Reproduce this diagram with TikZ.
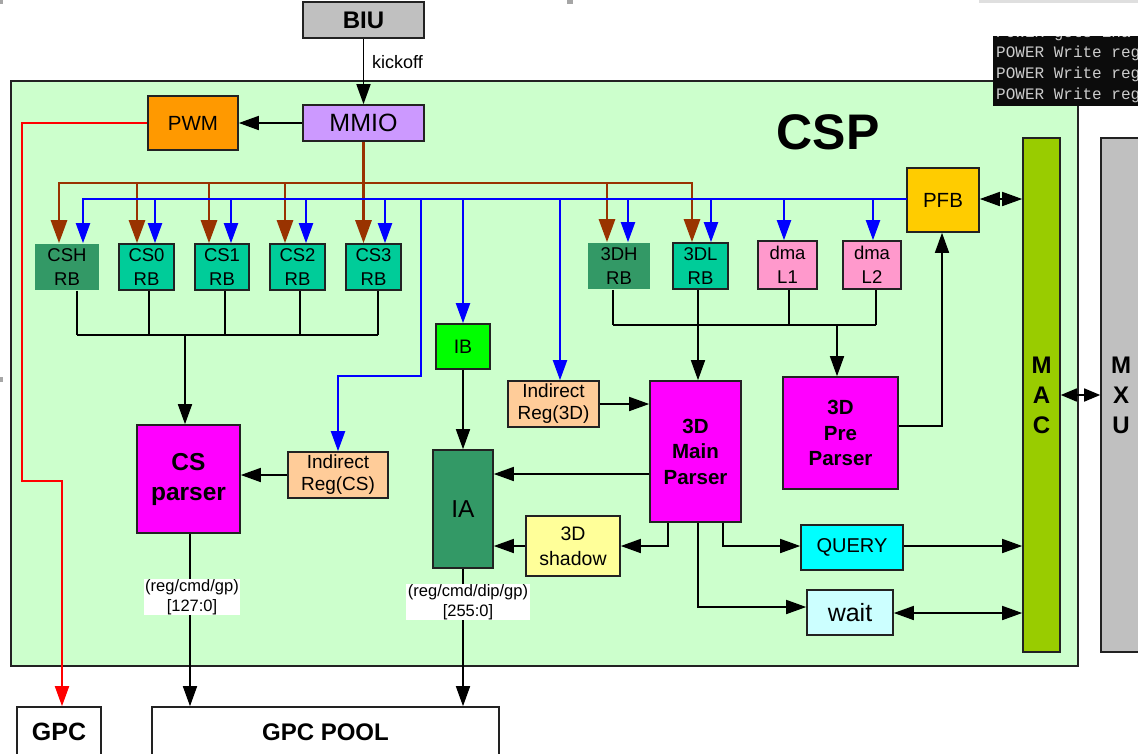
\documentclass[tikz,border=0pt]{standalone}
\usepackage{fontspec}
\setmainfont{Liberation Sans}
\newfontfamily\monofont{Liberation Mono}
\usetikzlibrary{arrows.meta}
\definecolor{biugray}{HTML}{C0C0C0}
\definecolor{mmiocol}{HTML}{CC99FF}
\definecolor{pwmcol}{HTML}{FF9900}
\definecolor{cspbg}{HTML}{CCFFCC}
\definecolor{pfbcol}{HTML}{FFCC00}
\definecolor{maccol}{HTML}{99CC00}
\definecolor{dkgreen}{HTML}{339966}
\definecolor{tqcol}{HTML}{00CC99}
\definecolor{pinkcol}{HTML}{FF99CC}
\definecolor{magcol}{HTML}{FF00FF}
\definecolor{peachcol}{HTML}{FFCC99}
\definecolor{grncol}{HTML}{00FF00}
\definecolor{yelcol}{HTML}{FFFF99}
\definecolor{cyancol}{HTML}{00FFFF}
\definecolor{ltcyan}{HTML}{CCFFFF}
\definecolor{brncol}{HTML}{993300}
\definecolor{bluecol}{HTML}{0000FF}
\definecolor{termbg}{HTML}{0C0C0C}
\definecolor{termfg}{HTML}{CCCCCC}
\definecolor{bordcol}{HTML}{222222}
\newcommand{\fsz}[2]{\fontsize{#1}{#2}\selectfont}
\begin{document}
\begin{tikzpicture}[x=1pt,y=-1pt,
  box/.style={draw=bordcol, line width=1.6pt, inner sep=0pt, align=center, text=black},
  nobox/.style={draw=none, inner sep=0pt, align=center, text=black},
  line/.style={draw=black, line width=1.6pt},
  arr/.style={line, -{Triangle[length=20pt,width=14pt]}},
  darr/.style={line, {Triangle[length=20pt,width=14pt]}-{Triangle[length=20pt,width=14pt]}},
  sdarr/.style={line, {Triangle[length=16pt,width=13pt]}-{Triangle[length=16pt,width=13pt]}},
  brn/.style={draw=brncol, line width=2.8pt},
  brnarr/.style={brn, -{Triangle[length=23pt,width=16pt]}},
  blu/.style={draw=bluecol, line width=2pt},
  bluarr/.style={blu, -{Triangle[length=20pt,width=14pt]}},
  redarr/.style={draw=red, line width=1.8pt, -{Triangle[length=20pt,width=14pt]}},
  lbl/.style={fill=white, inner xsep=1.5pt, inner ysep=1pt, align=center, font=\fsz{16.5}{19.5}},
  rbf/.style={font=\fsz{18.5}{24}},
  term/.style={anchor=west, inner sep=0pt, text=termfg, font=\monofont\fsz{16}{19}}
]
\clip (0,0) rectangle (1138,753);
\fill[white] (0,0) rectangle (1138,753);
% small screenshot artifacts
\fill[gray!70] (0,0) rectangle (3,4);
\fill[gray!70] (567,0) rectangle (573,4);
\fill[gray!70] (0,377) rectangle (3,382);
\fill[gray!25] (979,0) rectangle (1138,3);

% CSP frame
\draw[draw=bordcol, line width=1.8pt, fill=cspbg] (11,81) rectangle (1078,666);
\node[nobox, font=\bfseries\fsz{50}{60}] (csptxt) at (828,132) {CSP};

% nodes
\node[box, fill=biugray, minimum width=121pt, minimum height=36pt, font=\bfseries\fsz{24}{28}] (biu) at (363.5,20) {BIU};
\node[box, fill=mmiocol, minimum width=121pt, minimum height=36pt, font=\fsz{25}{30}] (mmio) at (363.5,123) {MMIO};
\node[box, fill=pwmcol, minimum width=90pt, minimum height=54pt, font=\fsz{20.5}{24}] (pwm) at (193,123) {PWM};
\node[box, fill=pfbcol, minimum width=72pt, minimum height=64pt, font=\fsz{20.5}{24}] (pfb) at (943,200) {PFB};
\node[box, fill=maccol, minimum width=37pt, minimum height=514pt, font=\bfseries\fsz{24}{30}] (mac) at (1041.5,395) {M\\A\\C};
\node[box, fill=biugray, minimum width=40pt, minimum height=514pt, font=\bfseries\fsz{24}{30}] (mxu) at (1121,395) {M\\X\\U};

\node[box, draw=none, fill=dkgreen, rbf, minimum width=64pt, minimum height=46pt] (csh) at (67,267) {CSH\\RB};
\node[box, fill=tqcol, rbf, minimum width=55pt, minimum height=46pt] (cs0) at (146.5,267) {CS0\\RB};
\node[box, fill=tqcol, rbf, minimum width=54pt, minimum height=46pt] (cs1) at (222,267) {CS1\\RB};
\node[box, fill=tqcol, rbf, minimum width=55pt, minimum height=46pt] (cs2) at (297.5,267) {CS2\\RB};
\node[box, fill=tqcol, rbf, minimum width=55pt, minimum height=46pt] (cs3) at (373.5,267) {CS3\\RB};
\node[box, draw=none, fill=dkgreen, rbf, minimum width=62pt, minimum height=46pt] (tdh) at (619,266) {3DH\\RB};
\node[box, fill=tqcol, rbf, minimum width=55pt, minimum height=46pt] (tdl) at (700.5,266) {3DL\\RB};
\node[box, fill=pinkcol, rbf, minimum width=59pt, minimum height=48pt] (dmaa) at (787.5,265) {dma\\L1};
\node[box, fill=pinkcol, rbf, minimum width=58pt, minimum height=48pt] (dmab) at (872,265) {dma\\L2};

\node[box, fill=magcol, minimum width=103pt, minimum height=108pt, font=\bfseries\fsz{24.5}{30}] (csparse) at (188.5,479) {CS\\parser};
\node[box, fill=peachcol, minimum width=100pt, minimum height=46pt, font=\fsz{19}{22}] (irc) at (338,475) {Indirect\\Reg(CS)};
\node[box, fill=grncol, minimum width=54pt, minimum height=45pt, font=\fsz{19.5}{23}] (ib) at (463,346.5) {IB};
\node[box, fill=dkgreen, minimum width=60pt, minimum height=118pt, font=\fsz{24.5}{28}] (ia) at (463,509) {IA};
\node[box, fill=peachcol, minimum width=91pt, minimum height=46pt, font=\fsz{19}{22}] (ird) at (553.5,404) {Indirect\\Reg(3D)};
\node[box, fill=magcol, minimum width=91pt, minimum height=141pt, font=\bfseries\fsz{20.5}{25.5}] (main) at (695.5,451.5) {3D\\Main\\Parser};
\node[box, fill=magcol, minimum width=115pt, minimum height=112pt, font=\bfseries\fsz{20.5}{25.5}] (pre) at (840.5,433) {3D\\Pre\\Parser};
\node[box, fill=yelcol, minimum width=94pt, minimum height=60pt, font=\fsz{19.5}{25}] (shadow) at (573,546) {3D\\shadow};
\node[box, fill=cyancol, minimum width=102pt, minimum height=45pt, font=\fsz{20}{24}] (query) at (852,547.5) {QUERY};
\node[box, fill=ltcyan, minimum width=86pt, minimum height=45pt, font=\fsz{25}{29}] (wait) at (850,612.5) {wait};
\node[box, fill=white, minimum width=84pt, minimum height=50pt, font=\bfseries\fsz{25}{29}] (gpc) at (59,732) {GPC};
\node[box, fill=white, minimum width=347pt, minimum height=50pt, font=\bfseries\fsz{24}{28}] (gpcpool) at (325.5,732) {GPC POOL};

% BIU / MMIO / PWM
\draw[arr] (biu) -- (mmio);
\node[anchor=west, inner sep=0pt, font=\fsz{18}{21}] (kick) at (372,62) {kickoff};
\draw[arr] (mmio) -- (pwm);

% red line to GPC
\coordinate (r1) at (22,123);
\coordinate (r2) at (22,481);
\coordinate (r3) at (62,481);
\draw[redarr] (pwm.west) -- (r1) -- (r2) -- (r3) -- (r3 |- gpc.north);

% brown bus
\coordinate (bL) at (59,183);
\coordinate (b1) at (137,183);
\coordinate (b2) at (209,183);
\coordinate (b3) at (285,183);
\coordinate (b4) at (607,183);
\coordinate (bR) at (692,183);
\draw[brn, line cap=rect] (bL) -- (bR);
\draw[brnarr] (mmio.south) -- (mmio.south |- cs3.north);
\draw[brnarr] (bL) -- (bL |- csh.north);
\draw[brnarr] (b1) -- (b1 |- cs0.north);
\draw[brnarr] (b2) -- (b2 |- cs1.north);
\draw[brnarr] (b3) -- (b3 |- cs2.north);
\draw[brnarr] (b4) -- (b4 |- tdh.north);
\draw[brnarr] (bR) -- (bR |- tdl.north);

% blue bus
\coordinate (uL) at (83,199);
\coordinate (u1) at (155,199);
\coordinate (u2) at (231,199);
\coordinate (u3) at (306,199);
\coordinate (u4) at (385,199);
\coordinate (u5) at (421,199);
\coordinate (u7) at (560,199);
\coordinate (u8) at (628,199);
\coordinate (u9) at (711,199);
\coordinate (u10) at (784,199);
\coordinate (u11) at (873,199);
\coordinate (uk) at (421,376);
\draw[blu, line cap=rect] (uL) -- (uL -| pfb.west);
\draw[bluarr] (uL) -- (uL |- csh.north);
\draw[bluarr] (u1) -- (u1 |- cs0.north);
\draw[bluarr] (u2) -- (u2 |- cs1.north);
\draw[bluarr] (u3) -- (u3 |- cs2.north);
\draw[bluarr] (u4) -- (u4 |- cs3.north);
\draw[bluarr] (u8) -- (u8 |- tdh.north);
\draw[bluarr] (u9) -- (u9 |- tdl.north);
\draw[bluarr] (u10) -- (u10 |- dmaa.north);
\draw[bluarr] (u11) -- (u11 |- dmab.north);
\draw[bluarr] (ib.north |- uL) -- (ib.north);
\draw[bluarr] (u7) -- (u7 |- ird.north);
\draw[bluarr] (u5) -- (uk) -- (uk -| irc.north) -- (irc.north);

% CS collector
\coordinate (cL) at (77,335);
\coordinate (cR) at (378,335);
\coordinate (cc) at (185,335);
\draw[line] (cL) -- (cR);
\draw[line] ([xshift=10pt]csh.south) -- (cL);
\draw[line] ([xshift=2.5pt]cs0.south) -- ([xshift=2.5pt]cs0.south |- cL);
\draw[line] ([xshift=3pt]cs1.south) -- ([xshift=3pt]cs1.south |- cL);
\draw[line] ([xshift=2.5pt]cs2.south) -- ([xshift=2.5pt]cs2.south |- cL);
\draw[line] ([xshift=4.5pt]cs3.south) -- (cR);
\draw[arr] (cc) -- (cc |- csparse.north);

% 3D collector
\coordinate (dL) at (613,325);
\coordinate (dR) at (876,325);
\coordinate (tc) at (698,325);
\coordinate (tp) at (837,325);
\draw[line] (dL) -- (dR);
\draw[line] ([xshift=-6pt]tdh.south) -- (dL);
\draw[line] ([xshift=-2.5pt]tdl.south) -- (tc);
\draw[line] ([xshift=1.5pt]dmaa.south) -- ([xshift=1.5pt]dmaa.south |- dL);
\draw[line] ([xshift=4pt]dmab.south) -- (dR);
\draw[arr] (tc) -- (tc |- main.north);
\draw[arr] (tp) -- (tp |- pre.north);

% inner connections
\draw[arr] (irc.west) -- (irc.west -| csparse.east);
\draw[arr] (ib) -- (ia);
\draw[arr] (ird.east) -- (ird.east -| main.west);
\coordinate (y474) at (0,474);
\draw[arr] (main.west |- y474) -- (ia.east |- y474);
\coordinate (x668) at (668,0);
\coordinate (x698) at (698,0);
\coordinate (x723) at (723,0);
\coordinate (y546) at (0,546);
\coordinate (y607) at (0,607);
\coordinate (y613) at (0,613);
\draw[arr] (main.south -| x668) -- (x668 |- y546) -- (shadow.east |- y546);
\draw[arr] (shadow.west) -- (shadow.west -| ia.east);
\draw[arr] (main.south -| x698) -- (x698 |- y607) -- (wait.west |- y607);
\draw[arr] (main.south -| x723) -- (x723 |- y546) -- (query.west |- y546);
\draw[arr] (query.east |- y546) -- (mac.west |- y546);
\draw[darr] (wait.east |- y613) -- (mac.west |- y613);
\coordinate (y426) at (0,426);
\coordinate (x942) at (942,0);
\draw[arr] (pre.east |- y426) -- (x942 |- y426) -- (x942 |- pfb.south);
\draw[darr] (pfb.east |- uL) -- (mac.west |- uL);
\draw[sdarr] (mac.east) -- (mxu.west);

% outputs to GPC POOL
\coordinate (x190) at (190,0);
\draw[arr] (csparse.south -| x190) -- (x190 |- gpcpool.north);
\node[lbl] (l1) at (192,597) {(reg/cmd/gp)\\{[127:0]}};
\draw[arr] (ia.south) -- (ia.south |- gpcpool.north);
\node[lbl] (l2) at (468,602) {(reg/cmd/dip/gp)\\{[255:0]}};

% terminal overlay
\fill[termbg] (993,36) rectangle (1140,106);
\begin{scope}
\clip (993,36) rectangle (1140,106);
\node[term] (t0) at (996,34) {POWER gets Ena};
\node[term] (t1) at (996,53) {POWER Write reg};
\node[term] (t2) at (996,74) {POWER Write reg};
\node[term] (t3) at (996,95) {POWER Write reg};
\end{scope}
\end{tikzpicture}
\end{document}
